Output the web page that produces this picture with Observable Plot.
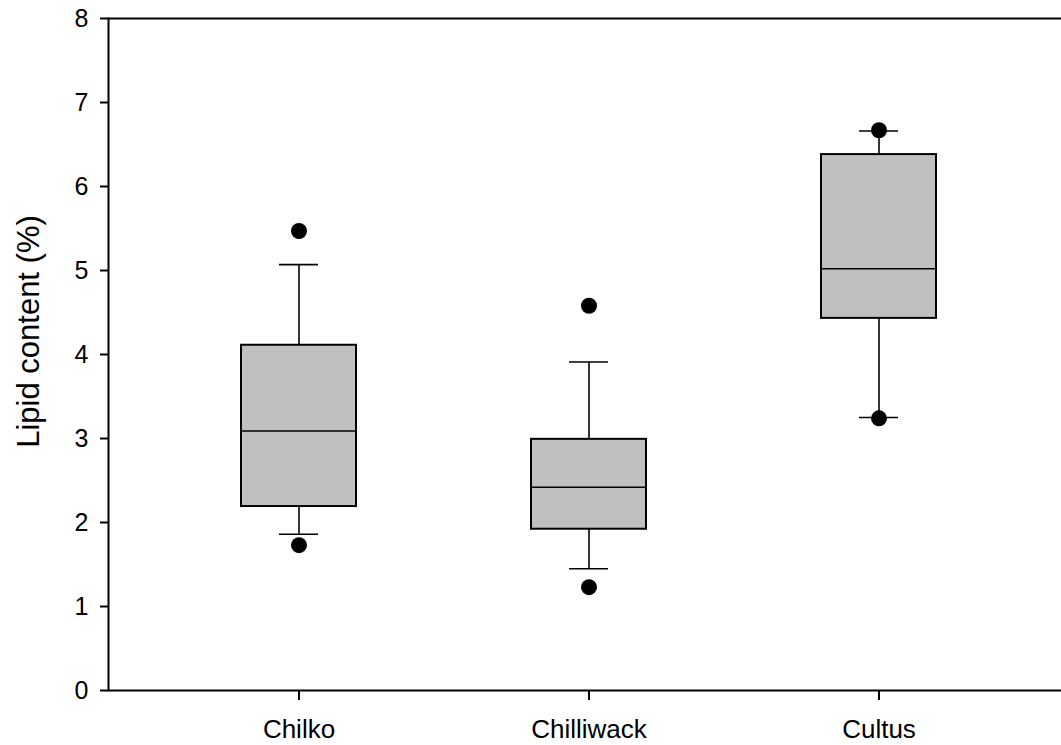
<!DOCTYPE html>
<html>
<head>
<meta charset="utf-8">
<script src="https://cdn.jsdelivr.net/npm/d3@7"></script>
<script src="https://cdn.jsdelivr.net/npm/@observablehq/plot@0.6"></script>
<style>
  html, body { margin: 0; padding: 0; background: #fff; }
  #chart svg { display: block; }
</style>
</head>
<body>
<div id="chart"></div>
<script>
const sites = ["Chilko", "Chilliwack", "Cultus"];
const q1 = [2.19, 1.92, 4.43];
const median = [3.09, 2.42, 5.02];
const q3 = [4.11, 2.99, 6.38];
const whiskerLow = [1.86, 1.45, 3.25];
const whiskerHigh = [5.07, 3.91, 6.66];
const outlierSite = ["Chilko", "Chilko", "Chilliwack", "Chilliwack", "Cultus", "Cultus"];
const outlierValue = [5.47, 1.73, 4.58, 1.23, 6.67, 3.24];
const yTicks = [0, 1, 2, 3, 4, 5, 6, 7, 8];

const boxes = sites.map((s, i) => ({
  site: s, q1: q1[i], median: median[i], q3: q3[i], lo: whiskerLow[i], hi: whiskerHigh[i]
}));
const outliers = outlierSite.map((s, i) => ({site: s, value: outlierValue[i]}));

const font = "Liberation Sans, Arial, Helvetica, sans-serif";

const chart = Plot.plot({
  width: 1061,
  height: 745,
  marginTop: 18,
  marginBottom: 55,
  marginLeft: 108,
  marginRight: 0,
  style: {fontFamily: font, background: "#fff", color: "#000"},
  x: {type: "band", domain: sites, range: [108, 1069], paddingInner: 0.604, paddingOuter: 0.456, label: null},
  y: {domain: [0, 8], label: null},
  marks: [
    // whiskers
    Plot.ruleX(boxes, {x: "site", y1: "lo", y2: "q1", stroke: "#000", strokeWidth: 1.6}),
    Plot.ruleX(boxes, {x: "site", y1: "q3", y2: "hi", stroke: "#000", strokeWidth: 1.6}),
    Plot.tickY(boxes, {x: "site", y: "lo", stroke: "#000", strokeWidth: 1.6, inset: 38}),
    Plot.tickY(boxes, {x: "site", y: "hi", stroke: "#000", strokeWidth: 1.6, inset: 38}),
    // boxes
    Plot.barY(boxes, {x: "site", y1: "q1", y2: "q3", fill: "#c0c0c0", stroke: "#000", strokeWidth: 2}),
    Plot.tickY(boxes, {x: "site", y: "median", stroke: "#000", strokeWidth: 1.6}),
    // outliers
    Plot.dot(outliers, {x: "site", y: "value", r: 8, fill: "#000", stroke: "none"}),
    // frame lines
    Plot.ruleY([0, 8], {stroke: "#000", strokeWidth: 2}),
    Plot.frame({anchor: "left", stroke: "#000", strokeWidth: 2}),
    // axes
    Plot.axisY({ticks: yTicks, tickSize: 8, tickPadding: 12, fontSize: 25, strokeWidth: 2, label: null}),
    Plot.axisX({tickSize: 10, tickPadding: 19, fontSize: 26, strokeWidth: 2, label: null}),
    Plot.text(["Lipid content (%)"], {frameAnchor: "left", textAnchor: "middle", dx: -79, dy: -23, rotate: -90, fontSize: 31, fill: "#000"})
  ]
});
document.getElementById("chart").appendChild(chart);
</script>
</body>
</html>
